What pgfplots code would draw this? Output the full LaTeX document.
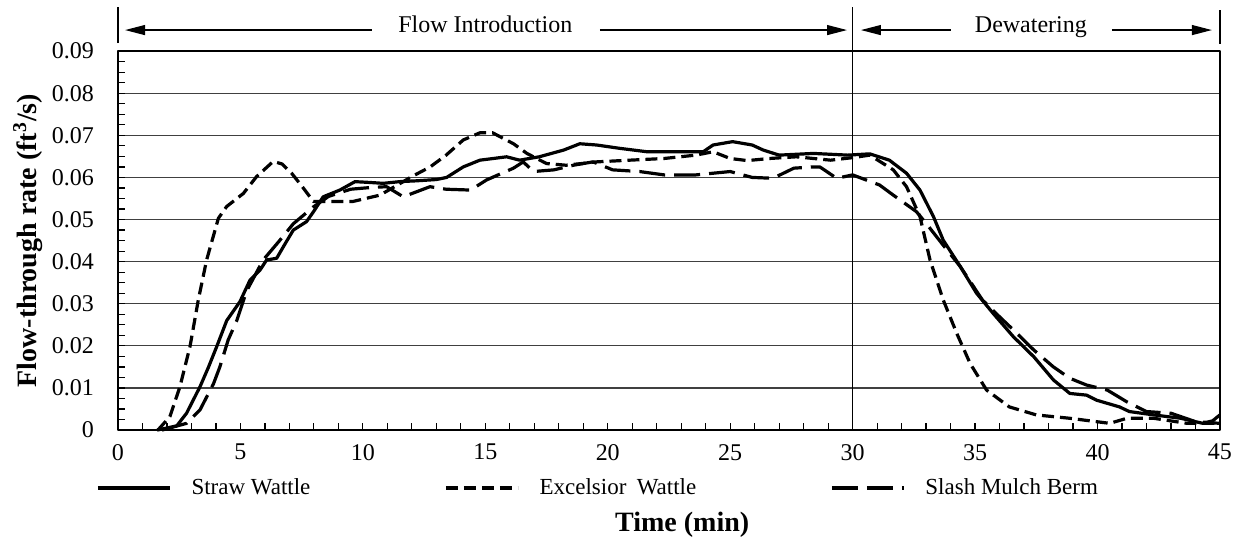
\documentclass[border=0pt]{standalone}
\usepackage{pgfplots}
\pgfplotsset{compat=1.18}
\usepackage{fontspec}
\setmainfont{Liberation Serif}
\usetikzlibrary{arrows.meta}

\pgfplotstableread{
x y
1.6 0
2.0 0.0005
2.4 0.001
2.8 0.004
3.35 0.0103
3.7 0.015
4.03 0.0198
4.44 0.026
4.98 0.0305
5.39 0.0356
5.8 0.038
6.07 0.0404
6.48 0.0408
6.8 0.044
7.16 0.0475
7.7 0.0495
8.0 0.052
8.38 0.0554
9.06 0.057
9.68 0.059
10.3 0.0588
10.83 0.0586
11.5 0.059
12.2 0.0592
13.0 0.0595
13.42 0.060
14.1 0.0625
14.78 0.0641
15.87 0.0649
16.4 0.0641
17.2 0.0649
18.2 0.0665
18.86 0.068
19.55 0.0677
20.5 0.0669
21.6 0.0661
22.95 0.0661
23.9 0.0661
24.3 0.0677
25.1 0.0685
25.9 0.0677
26.35 0.0665
27.0 0.0653
28.4 0.0657
29.8 0.0653
30.7 0.0656
31.5 0.0641
32.2 0.061
32.75 0.057
33.3 0.0507
33.7 0.0451
34.4 0.0388
35.06 0.0325
35.74 0.0277
36.56 0.0222
37.4 0.0174
38.2 0.0119
38.87 0.0087
39.55 0.0083
39.96 0.0071
40.9 0.0055
41.3 0.0044
42.3 0.0036
43.4 0.0028
44.3 0.0016
44.7 0.0022
45 0.0036
}\straw

\pgfplotstableread{
x y
1.63 0
2.12 0.0032
2.53 0.0103
2.94 0.0198
3.28 0.0309
3.62 0.0404
4.1 0.0503
4.44 0.0531
5.12 0.0562
5.66 0.0602
6.34 0.0638
6.7 0.0632
7.09 0.061
7.5 0.058
7.98 0.0543
8.8 0.0543
9.6 0.0543
10.7 0.0558
11.5 0.0585
12.0 0.0602
12.75 0.0625
13.4 0.0653
14.1 0.0689
14.78 0.0706
15.3 0.0706
16.15 0.068
16.7 0.0657
17.5 0.0633
18.3 0.0629
19.55 0.0637
20.9 0.0641
22.3 0.0645
23.6 0.0653
24.3 0.0661
25.0 0.0645
25.7 0.064
26.6 0.0645
27.7 0.0649
29.1 0.0641
30.0 0.0647
30.7 0.0653
31.66 0.0618
32.2 0.0578
32.75 0.0507
33.16 0.0404
33.7 0.0309
34.25 0.023
34.8 0.0158
35.47 0.0095
36.4 0.0055
37.5 0.0036
38.87 0.0028
40.5 0.0016
41.2 0.0028
42.3 0.0028
43.65 0.0016
45 0.0016
}\excelsior

\pgfplotstableread{
x y
1.8 0
2.8 0.0016
3.35 0.0048
3.9 0.011
4.16 0.015
4.5 0.0214
4.85 0.026
5.25 0.033
5.93 0.0404
6.6 0.045
7.16 0.049
7.98 0.053
8.6 0.0555
9.5 0.0572
10.3 0.0576
10.97 0.0578
11.65 0.0554
12.74 0.0578
13.4 0.0572
14.4 0.057
15.05 0.0594
16.15 0.0622
16.55 0.0637
16.96 0.0614
17.8 0.0618
18.6 0.0629
19.4 0.0637
20.2 0.0618
21.3 0.0614
22.3 0.0606
23.6 0.0606
25.0 0.0614
25.9 0.06
26.75 0.0598
27.6 0.0622
28.4 0.0625
28.66 0.0625
29.35 0.0598
30.0 0.0606
31.1 0.0582
31.66 0.0558
32.6 0.0519
33.0 0.0491
33.7 0.0439
34.4 0.0388
35.3 0.0309
36.0 0.0269
36.56 0.0238
37.4 0.019
38.2 0.015
38.87 0.0123
39.55 0.0107
40.4 0.0095
41.2 0.0067
42.0 0.0044
43.0 0.004
44.0 0.002
45 0.0016
}\slash

\begin{document}
\begin{tikzpicture}
\begin{axis}[
  scale only axis, width=551pt, height=189.5pt,
  xmin=0, xmax=45, ymin=0, ymax=0.09,
  clip=false,
  scaled y ticks=false, scaled x ticks=false,
  xtick={0,5,10,15,20,25,30,35,40,45},
  xticklabels={0,5,10,15,20,25,30,35,40,45},
  ytick={0,0.01,0.02,0.03,0.04,0.05,0.06,0.07,0.08,0.09},
  yticklabels={0,0.01,0.02,0.03,0.04,0.05,0.06,0.07,0.08,0.09},
  minor x tick num=4, minor y tick num=3,
  tick align=inside, tick pos=left,
  major tick length=3.5pt, minor tick length=3.5pt,
  ymajorgrids, grid style={black!75, line width=0.6pt},
  axis line style={line width=0.7pt},
  tick style={black, line width=0.6pt},
  ticklabel style={font=\fontsize{12}{14}\selectfont},
  xticklabel style={yshift=-3.5pt},
  yticklabel style={xshift=-8.5pt},
  every axis x label/.style={at={(axis description cs:0.512,-0.2665)}, anchor=base},
  every axis y label/.style={at={(axis description cs:-0.0817,0.5)}, rotate=90, anchor=center},
  xlabel={\fontsize{14}{16}\selectfont\bfseries Time (min)},
  ylabel={\fontsize{14}{16}\selectfont\bfseries Flow-through rate (ft\textsuperscript{3}/s)},
  legend columns=3,
  legend image code/.code={\draw[#1] (0pt,0pt) -- (36pt,0pt);},
  legend style={at={(-0.020,-0.153)}, anchor=west, draw=none, fill=none,
    inner xsep=0pt, inner ysep=0pt, font=\fontsize{11.5}{13}\selectfont,
    /tikz/every odd column/.append style={column sep=8pt},
    /tikz/every even column/.append style={column sep=65pt}},
  line join=round,
]
\addplot[black, line width=1.6pt] table[x=x,y=y] {\straw};
\addlegendentry{Straw Wattle}
\addplot[black, line width=1.6pt, dash pattern=on 6pt off 3pt] table[x=x,y=y] {\excelsior};
\addlegendentry{Excelsior\hspace{0.45em}Wattle}
\addplot[black, line width=1.6pt, dash pattern=on 13pt off 4.5pt] table[x=x,y=y] {\slash};
\addlegendentry{Slash Mulch Berm}

\path (axis cs:-4.818,-0.02613) rectangle (axis cs:45.86,0.10214);
\draw[line width=0.7pt] (axis cs:30,0) -- (axis cs:30,0.1005);
\draw[line width=0.7pt] (axis cs:0,0.0919) -- (axis cs:0,0.1005);
\draw[line width=0.7pt] (axis cs:45,0.0917) -- (axis cs:45,0.0998);
\draw[-{Triangle[length=10pt,width=5pt]}, line width=0.6pt] (axis cs:10.37,0.095) -- (axis cs:0.29,0.095);
\draw[-{Triangle[length=10pt,width=5pt]}, line width=0.6pt] (axis cs:19.68,0.095) -- (axis cs:29.77,0.095);
\draw[-{Triangle[length=10pt,width=5pt]}, line width=0.6pt] (axis cs:34.01,0.095) -- (axis cs:30.34,0.095);
\draw[-{Triangle[length=10pt,width=5pt]}, line width=0.6pt] (axis cs:40.59,0.095) -- (axis cs:44.67,0.095);
\node[anchor=base, font=\fontsize{12}{14}\selectfont, inner sep=0pt] at (axis cs:15,0.0945) {Flow Introduction};
\node[anchor=base, font=\fontsize{12}{14}\selectfont, inner sep=0pt] at (axis cs:37.28,0.0945) {Dewatering};
\end{axis}
\end{tikzpicture}
\end{document}
